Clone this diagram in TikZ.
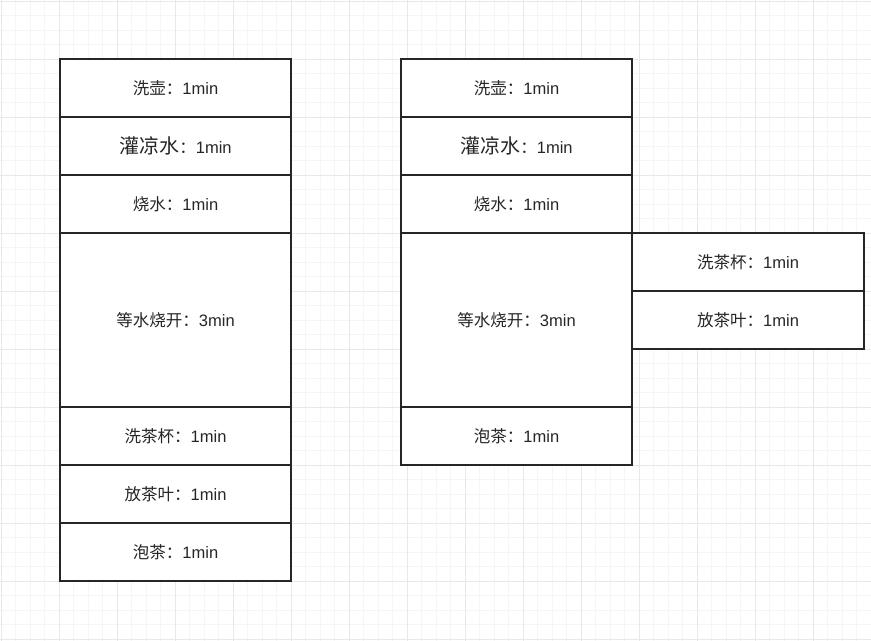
\documentclass[tikz,border=0pt]{standalone}
\usepackage{fontspec}
\setmainfont{Liberation Sans}
\newfontfamily\cjk{Noto Sans CJK SC}
\definecolor{minorgrid}{HTML}{F5F5F5}
\definecolor{majorgrid}{HTML}{E8E8E8}
\definecolor{ink}{HTML}{262626}
\tikzset{
  cell/.style={draw=ink, line width=0.85pt, fill=white, inner sep=0pt, outer sep=0pt,
    minimum width=173.25pt, minimum height=43.5pt, text=ink,
    font=\fontsize{12.4}{14}\selectfont},
  tall/.style={minimum height=130.5pt},
  wide/.style={minimum width=174pt},
}
\newcommand{\zh}[1]{{\cjk #1}}
\newcommand{\zhbig}[1]{{\cjk\fontsize{15}{16}\selectfont #1}}
\begin{document}
\begin{tikzpicture}[x=0.75pt,y=-0.75pt]
\useasboundingbox (0,0) rectangle (871,641);
\fill[white] (0,0) rectangle (871,641);
% grid
\foreach \i in {0,...,60} {
  \draw[minorgrid, line width=0.6pt] ({1.3+14.5*\i},0) -- ({1.3+14.5*\i},641);
}
\foreach \i in {0,...,44} {
  \draw[minorgrid, line width=0.6pt] (0,{1+14.5*\i}) -- (871,{1+14.5*\i});
}
\foreach \i in {0,...,15} {
  \draw[majorgrid, line width=0.6pt] ({1.3+58*\i},0) -- ({1.3+58*\i},641);
}
\foreach \i in {0,...,11} {
  \draw[majorgrid, line width=0.6pt] (0,{1+58*\i}) -- (871,{1+58*\i});
}
% left column
\node[cell] (l1) at (175.5,88) {\zh{洗壶：}1min};
\node[cell] (l2) at (175.5,146) {\zhbig{灌凉水}\zh{：}1min};
\node[cell] (l3) at (175.5,204) {\zh{烧水：}1min};
\node[cell,tall] (l4) at (175.5,320) {\zh{等水烧开：}3min};
\node[cell] (l5) at (175.5,436) {\zh{洗茶杯：}1min};
\node[cell] (l6) at (175.5,494) {\zh{放茶叶：}1min};
\node[cell] (l7) at (175.5,552) {\zh{泡茶：}1min};
% right column
\node[cell] (r1) at (516.5,88) {\zh{洗壶：}1min};
\node[cell] (r2) at (516.5,146) {\zhbig{灌凉水}\zh{：}1min};
\node[cell] (r3) at (516.5,204) {\zh{烧水：}1min};
\node[cell,tall] (r4) at (516.5,320) {\zh{等水烧开：}3min};
\node[cell] (r5) at (516.5,436) {\zh{泡茶：}1min};
% parallel column
\node[cell,wide] (p1) at (748,262) {\zh{洗茶杯：}1min};
\node[cell,wide] (p2) at (748,320) {\zh{放茶叶：}1min};
\end{tikzpicture}
\end{document}
